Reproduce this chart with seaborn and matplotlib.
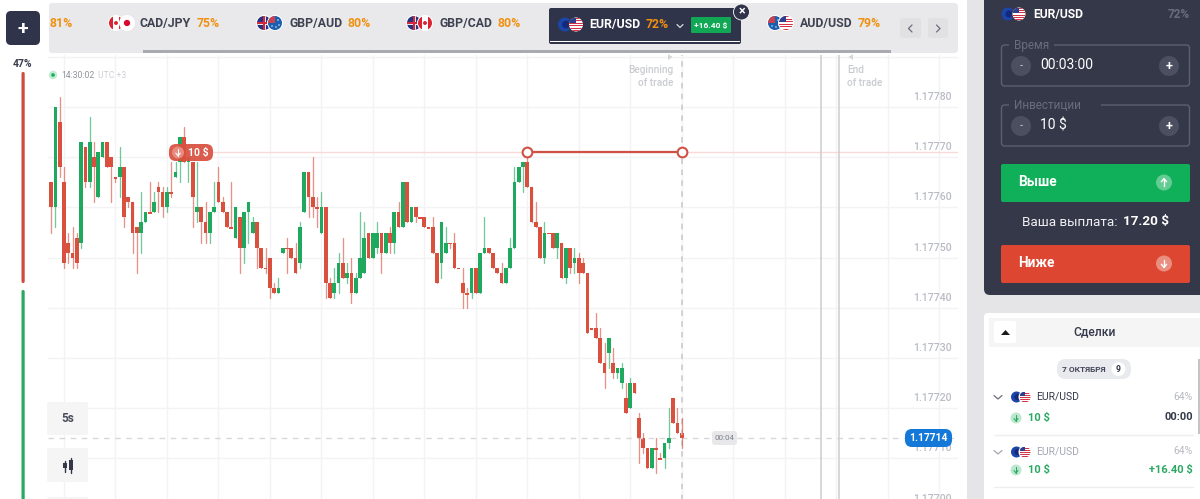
import matplotlib
matplotlib.use("Agg")
import matplotlib.pyplot as plt
from matplotlib.patches import Circle, FancyBboxPatch, Polygon, Rectangle
import numpy as np
import pandas as pd
import seaborn as sns

# --- candle values, in 1e-5 above 1.17700 ---
opens = [65, 60, 77, 65, 53, 51, 54, 53, 72, 65, 70, 62, 70, 73, 70, 66, 66, 68, 62, 61,
         56, 55, 57, 59, 59, 64, 63, 60, 63, 66, 69, 74, 69, 69, 59, 60, 57, 55, 59, 65,
         61, 59, 56, 54, 58, 52, 59, 55, 57, 52, 48, 50, 44, 43, 51, 52, 52, 50, 49, 59,
         67, 62, 60, 55, 60, 45, 43, 45, 49, 46, 47, 43, 46, 47, 55, 50, 52, 55, 51, 55,
         53, 59, 56, 65, 57, 60, 58, 58, 56, 56, 51, 49, 51, 53, 53, 48, 45, 43, 43, 48,
         43, 51, 52, 51, 48, 47, 45, 48, 52, 65, 68, 69, 64, 57, 56, 50, 55, 55, 52, 53,
         46, 52, 49, 50, 49, 47, 36, 36, 34, 29, 31, 29, 27, 25, 22, 20, 25, 18, 14, 12,
         8, 12, 10, 10, 13, 22, 17, 15]
closes = [60, 80, 68, 49, 51, 50, 49, 73, 65, 73, 68, 71, 73, 68, 68, 66, 68, 58, 61, 55,
          55, 57, 59, 59, 61, 63, 60, 63, 63, 67, 74, 69, 70, 62, 60, 57, 55, 59, 60, 61,
          59, 56, 56, 60, 52, 59, 61, 57, 52, 48, 48, 44, 43, 44, 52, 52, 50, 47, 56, 67,
          62, 60, 60, 60, 45, 42, 45, 49, 46, 47, 43, 46, 50, 54, 50, 55, 55, 51, 55, 53,
          59, 56, 65, 57, 60, 58, 58, 56, 56, 51, 45, 57, 53, 53, 48, 48, 43, 43, 48, 43,
          51, 52, 51, 48, 47, 45, 48, 52, 65, 68, 69, 64, 57, 56, 50, 55, 55, 52, 55, 46,
          52, 48, 50, 47, 47, 35, 36, 34, 29, 27, 34, 27, 28, 28, 19, 25, 23, 14, 12, 8,
          12, 12, 10, 13, 14, 17, 15, 14]
highs = [65, 80, 82, 68, 55, 56, 55, 73, 72, 78, 73, 71, 73, 73, 70, 66, 72, 68, 62, 61,
         56, 63, 59, 65, 63, 65, 64, 64, 69, 69, 74, 76, 70, 69, 69, 60, 61, 59, 65, 68,
         62, 59, 65, 60, 58, 59, 61, 58, 57, 52, 52, 50, 45, 46, 52, 54, 52, 53, 57, 67,
         67, 70, 62, 63, 60, 46, 48, 51, 54, 49, 50, 47, 59, 57, 55, 55, 57, 55, 55, 56,
         59, 61, 65, 65, 60, 60, 58, 58, 56, 58, 51, 57, 56, 53, 55, 48, 48, 44, 48, 48,
         51, 58, 52, 51, 48, 49, 48, 54, 68, 68, 69, 70, 64, 61, 56, 57, 55, 55, 55, 53,
         52, 52, 52, 51, 50, 47, 36, 39, 36, 33, 34, 32, 28, 29, 25, 26, 25, 19, 15, 12,
         12, 14, 11, 13, 20, 22, 20, 18]
lows = [55, 56, 66, 48, 49, 48, 48, 52, 64, 64, 61, 62, 70, 68, 61, 65, 62, 56, 60, 51,
        47, 51, 57, 59, 59, 59, 58, 59, 62, 66, 65, 69, 65, 56, 57, 53, 53, 53, 59, 61,
        59, 56, 56, 54, 47, 49, 53, 55, 48, 48, 47, 42, 43, 43, 51, 47, 50, 47, 48, 59,
        58, 58, 56, 55, 42, 42, 42, 43, 46, 45, 41, 43, 46, 47, 50, 50, 51, 47, 51, 51,
        51, 56, 56, 57, 57, 57, 58, 56, 56, 51, 45, 46, 51, 52, 48, 48, 40, 40, 42, 43,
        43, 51, 51, 48, 47, 45, 45, 48, 52, 65, 63, 64, 57, 56, 50, 49, 55, 52, 50, 46,
        45, 47, 47, 45, 47, 35, 36, 34, 29, 24, 28, 26, 26, 24, 19, 20, 23, 9, 11, 8,
        8, 7, 10, 8, 12, 17, 15, 12]

tick_points = [0, 10, 20, 30, 40, 50, 60, 70, 80]
tick_labels = ["1.17700", "1.17710", "1.17720", "1.17730", "1.17740",
               "1.17750", "1.17760", "1.17770", "1.17780"]
trade_points = [71, 71]
trade_candles = [111, 147]
current_points = 14

RED = "#d9503f"
GREEN = "#1fa95f"
DARK = "#343849"
ORANGE = "#f0900f"

to_price = lambda p: 1.177 + np.asarray(p, dtype=float) * 1e-5

# --- build tables ---
candles = pd.DataFrame({"n": range(len(opens)), "o": to_price(opens), "c": to_price(closes),
                        "h": to_price(highs), "l": to_price(lows)})
candles["dir"] = np.where(candles.c > candles.o, "up", "down")
candles["body"] = (candles.c - candles.o).abs().clip(lower=0.35e-5)
candles["base"] = candles[["o", "c"]].max(axis=1) - candles["body"]
wicks = candles.melt(id_vars=["n", "dir"], value_vars=["l", "h"], value_name="price")

# --- theme ---
sns.set_theme(style="white")
plt.rcParams["font.family"] = ["Roboto", "DejaVu Sans"]

fig = plt.figure(figsize=(12, 4.99), dpi=100, facecolor="white")

# chart runs past the bottom edge so 1.17700 gets cut off like the screenshot
ax = fig.add_axes([48 / 1200, -21 / 499, 910 / 1200, 465 / 499], zorder=1)

sns.lineplot(data=wicks, x="n", y="price", units="n", hue="dir", estimator=None,
             palette={"up": GREEN, "down": RED}, lw=0.95, alpha=0.62, legend=False, ax=ax)
for name, color in [("up", GREEN), ("down", RED)]:
    part = candles[candles.dir == name]
    sns.barplot(data=part, x="n", y="body", bottom=part["base"].to_numpy(), native_scale=True,
                orient="x", color=color, saturation=1, width=0.86, errorbar=None,
                linewidth=0, ax=ax)

ax.set_xlim((48 - 51.1) / 4.29, (958 - 51.1) / 4.29)
ax.set_ylim(to_price(-2.27), to_price(90.36))
ax.set_xticks(np.arange(3, 212, 12))
ax.set_yticks(to_price(tick_points + [90]))
ax.tick_params(length=0, labelleft=False, labelbottom=False)
ax.grid(True, color="#f3f3f5", lw=1)
ax.set_axisbelow(True)
ax.set_xlabel("")
ax.set_ylabel("")
sns.despine(ax=ax, left=True, bottom=True)

for p, lab in zip(tick_points, tick_labels):
    ax.text(0.9934, to_price(p + 2), lab, transform=ax.get_yaxis_transform(), ha="right",
            va="center", fontsize=7.6, fontweight="medium", color="#b9bcc4")

# reference lines
ax.axhline(to_price(trade_points[0]), xmin=0.181, color="#f8d9d5", lw=1, zorder=1)
ax.axhline(to_price(current_points), color="#d8d8da", lw=1, ls=(0, (4, 4)), zorder=1)
ax.axvline(trade_candles[1], color="#cfcfd2", lw=1.3, ls=(0, (3, 3)), zorder=1)
ax.axvline(179.5, color="#cdcdd1", lw=1.1, zorder=1)
ax.axvline(183.7, color="#cdcdd1", lw=1.1, zorder=1)
sns.lineplot(x=trade_candles, y=to_price(trade_points), color="#cf5144", lw=1.6, marker="o",
             markersize=7, markerfacecolor="white", markeredgecolor="#cf5144",
             markeredgewidth=1.5, ax=ax, zorder=5)

# --- screen furniture, drawn in pixel coordinates ---
ui = fig.add_axes([0, 0, 1, 1], zorder=2)
ui.set_xlim(0, 1200)
ui.set_ylim(499, 0)
ui.axis("off")


def box(x, y, w, h, color, r=3, **kw):
    p = FancyBboxPatch((x, y), w, h, boxstyle=f"round,pad=0,rounding_size={r}",
                       facecolor=color, edgecolor=kw.pop("edge", "none"), lw=kw.pop("lw", 0), **kw)
    ui.add_patch(p)
    return p


def txt(x, y, s, size=8, color="#3a3d4c", weight="normal", ha="left", **kw):
    return ui.text(x, y, s, fontsize=size, color=color, fontweight=weight, ha=ha, va="center", **kw)


def dot(x, y, r, color, **kw):
    c = Circle((x, y), r, facecolor=color, edgecolor=kw.pop("edge", "none"), lw=kw.pop("lw", 0), **kw)
    ui.add_patch(c)
    return c


def arrow(x, y, sign, color="white", lw=1.0, size=2.6):
    # sign +1 points down the screen, -1 up
    ui.plot([x, x], [y - sign * size * 1.5, y + sign * size * 1.5], color=color, lw=lw)
    ui.plot([x - size, x, x + size], [y + sign * size * 0.3, y + sign * size * 1.5, y + sign * size * 0.3],
            color=color, lw=lw)


def flag(x, y, kind, r=7, ring="white"):
    dot(x, y, r + 1, ring)
    back = {"ca": "white", "jp": "white", "gb": "#27357e", "au": "#1b5fb0", "eu": "#1c45a8", "us": "white"}[kind]
    disc = dot(x, y, r, back)
    clip = []
    if kind == "ca":
        clip = [Rectangle((x - r, y - r), r * 0.55, 2 * r, color="#d92433"),
                Rectangle((x + r * 0.45, y - r), r * 0.55, 2 * r, color="#d92433")]
        dot(x, y, r * 0.28, "#d92433")
    elif kind == "jp":
        dot(x, y, r * 0.45, "#d9082f")
    elif kind == "gb":
        clip = [Rectangle((x - r, y - 1.5), 2 * r, 3, color="#e8e8ee"),
                Rectangle((x - 1.5, y - r), 3, 2 * r, color="#e8e8ee"),
                Rectangle((x - r, y - 0.8), 2 * r, 1.6, color="#d6283c"),
                Rectangle((x - 0.8, y - r), 1.6, 2 * r, color="#d6283c")]
    elif kind == "au":
        clip = [Rectangle((x - r, y - r), r, r, color="#c8434f")]
        for dx, dy in [(3, -3), (4, 2), (1, 4), (-3, 3)]:
            dot(x + dx, y + dy, 0.7, "white")
    elif kind == "eu":
        dot(x + 1, y, r * 0.55, "#12297c")
    elif kind == "us":
        clip = [Rectangle((x - r, y - r + k * r * 0.36), 2 * r, r * 0.18, color="#d5324a") for k in range(6)]
        clip.append(Rectangle((x - r, y - r), r, r * 0.85, color="#2d3f8f"))
    for piece in clip:
        piece.set_linewidth(0)
        ui.add_patch(piece)
        piece.set_clip_path(disc)


def pair(x, a, b, y=23, ring="white", r=7, gap=11):
    flag(x, y, a, r, ring)
    flag(x + gap, y, b, r, ring)


# left column
box(6, 11, 34, 34, "#30344a", r=5)
txt(23, 28.5, "+", size=14, color="white", weight="bold", ha="center")
txt(23, 64, "47%", size=7.5, color="#3a3d4c", weight="bold", ha="center")
box(21.5, 72, 3.2, 211, "#cd4d3f", r=1.5)
box(21.5, 290, 3.2, 215, "#2aa862", r=1.5)

# instrument strip
box(49, 3, 909, 50, "#e9e9ec", r=3)
ui.add_patch(Rectangle((143, 50), 748, 2.6, facecolor="#a9a9b0", lw=0))
txt(49, 23, "81%", size=8.8, color=ORANGE, weight="bold")
pair(116, "ca", "jp")
txt(140, 23, "CAD/JPY", size=8.8, color="#3f4250", weight="bold")
txt(197, 23, "75%", size=8.8, color=ORANGE, weight="bold")
pair(264, "gb", "au")
txt(289, 23, "GBP/AUD", size=8.8, color="#3f4250", weight="bold")
txt(348, 23, "80%", size=8.8, color=ORANGE, weight="bold")
pair(414, "gb", "ca")
txt(439, 23, "GBP/CAD", size=8.8, color="#3f4250", weight="bold")
txt(498, 23, "80%", size=8.8, color=ORANGE, weight="bold")
box(549, 8, 192, 36, "#30344a", r=2)
ui.add_patch(Rectangle((550, 41), 190, 1.4, facecolor="white", lw=0))
pair(565, "eu", "us", y=24.5, ring="#30344a")
txt(589, 24.5, "EUR/USD", size=8.8, color="white", weight="bold")
txt(646, 24.5, "72%", size=8.8, color=ORANGE, weight="bold")
ui.plot([677, 680, 683], [24.5, 27.5, 24.5], color="#d8d8de", lw=0.9)
box(691, 17, 40, 16, "#10a855", r=1)
txt(711, 25, "+16.40 $", size=6, color="white", weight="bold", ha="center")
dot(741.5, 12, 8, "#30344a", edge="white", lw=0.6)
txt(741.5, 11.5, "×", size=9, color="white", weight="bold", ha="center")
pair(775, "au", "us")
txt(800, 23, "AUD/USD", size=8.8, color="#3f4250", weight="bold")
txt(858, 23, "79%", size=8.8, color=ORANGE, weight="bold")
box(900, 18, 21, 20, "#e1e1e4", r=3)
box(928, 18, 20, 20, "#e1e1e4", r=3)
ui.plot([912, 908.5, 912], [25, 28.5, 32], color="#6a6d7c", lw=0.9)
ui.plot([936.5, 940, 936.5], [25, 28.5, 32], color="#6a6d7c", lw=0.9)

# chart captions
dot(53, 75, 4.2, "#bdeccf")
dot(53, 75, 1.8, "#1fa95f")
txt(61, 75, "14:30:02", size=6.2, color="#8f929c")
txt(98, 75, "UTC +3", size=6.2, color="#cfd0d5")
txt(673, 70, "Beginning", size=7.3, color="#cbccd1", ha="right", weight="medium")
txt(673, 83, "of trade", size=7.3, color="#cbccd1", ha="right", weight="medium")
ui.add_patch(Polygon([[668, 54], [668, 60], [672.5, 57]], facecolor="#d5d6da", lw=0))
txt(847, 70, "End", size=7.3, color="#cbccd1", weight="medium")
txt(847, 83, "of trade", size=7.3, color="#cbccd1", weight="medium")
ui.add_patch(Polygon([[853, 54], [853, 60], [848.5, 57]], facecolor="#d5d6da", lw=0))

# entry pill
box(169, 144, 44, 17, "#d9503f", r=7, alpha=0.93)
dot(178, 152.5, 6, "#e88b80")
arrow(178, 152.5, 1, lw=0.8, size=2.2)
txt(188, 152.5, "10 $", size=7.5, color="white", weight="bold")

# current price
box(712, 431, 25, 14, "#e8e8ea", r=3)
txt(724.5, 438, "00:04", size=5.8, color="#7d808c", ha="center")
box(905, 429, 47, 18, "#1378d8", r=7)
txt(928.5, 438, "1.17714", size=7.4, color="white", weight="bold", ha="center")

# tool buttons
box(47, 402, 41, 33, "#f5f5f6", r=2)
txt(67.5, 418, "5s", size=8.5, color="#4a4d5c", weight="bold", ha="center")
box(47, 448, 41, 34, "#f5f5f6", r=2)
ui.plot([64.5, 64.5], [461, 472], color="#343849", lw=1)
ui.plot([71, 71], [458, 473], color="#343849", lw=1)
ui.add_patch(Rectangle((62.5, 463), 4, 5, facecolor="#343849", lw=0))
ui.add_patch(Rectangle((69, 460), 4, 10, facecolor="#343849", lw=0))
box(47, 497, 41, 10, "#f5f5f6", r=2)

# right column
ui.add_patch(Rectangle((967, 0), 233, 499, facecolor="#e5e5e7", lw=0))
box(984, -12, 230, 307, DARK, r=6)
box(984, 313, 230, 200, "white", r=4)

pair(1008, "eu", "us", y=14, ring=DARK, r=6.5)
txt(1033, 14, "EUR/USD", size=8.7, color="white", weight="bold")
txt(1190, 14, "72%", size=8.5, color="#686c7c", weight="bold", ha="right")

for top, label, value in [(45, "Время", "00:03:00"), (105, "Инвестиции", "10 $")]:
    box(1001.5, top, 188, 41, "none", r=3, edge="#5c6072", lw=1)
    width = 45 if label == "Время" else 92
    ui.add_patch(Rectangle((1009, top - 2), width, 4, facecolor=DARK, lw=0))
    txt(1014, top + 0.5, label, size=8.5, color="#686c7c")
    dot(1021, top + 21, 10, "#4b4f60")
    txt(1021, top + 21, "-", size=8, color="#c5c7cf", ha="center")
    txt(1040, top + 20, value, size=10, color="white")
    dot(1169, top + 21, 10, "#4b4f60")
    txt(1169, top + 21, "+", size=9, color="white", weight="bold", ha="center")

box(1001, 164, 189, 38, "#10b05a", r=2)
txt(1018, 182, "Выше", size=9.8, color="white", weight="bold")
dot(1164, 182.5, 8, "#63cc93")
arrow(1164, 182.5, -1)
txt(1022, 222, "Ваша выплата:", size=9.7, color="#f0f0f4")
txt(1169, 222, "17.20 $", size=9.7, color="white", weight="bold", ha="right")
box(1001, 245, 189, 38, "#dd4631", r=2)
txt(1018, 263, "Ниже", size=9.8, color="white", weight="bold")
dot(1164, 263.5, 8, "#ea8e80")
arrow(1164, 263.5, 1)

# deals list
ui.add_patch(Rectangle((989, 318), 211, 29, facecolor="#f5f5f6", lw=0))
box(994, 321, 22, 22, "white", r=2)
ui.add_patch(Polygon([[1001, 335], [1010, 335], [1005.5, 330]], facecolor="#1a1a1e", lw=0))
txt(1095, 332, "Сделки", size=8.7, color="#343849", weight="medium", ha="center")
box(1057, 359, 74, 20, "#e9eaee", r=9)
txt(1062, 369, "7 ОКТЯБРЯ", size=6, color="#44475a", weight="bold")
dot(1118.5, 369, 7, "white")
txt(1118.5, 369, "9", size=6.2, color="#343849", weight="bold", ha="center")

rows = [(397, 418, "#343849", "#6a6d7c", "00:00", "#343849"),
        (452, 470, "#a5a7b0", "#a5a7b0", "+16.40 $", "#2aa862")]
for top, low, name_col, chev, right, right_col in rows:
    ui.plot([994, 998, 1002], [top - 1.5, top + 2, top - 1.5], color=chev, lw=0.9)
    pair(1016.5, "eu", "us", y=top, r=5.5, gap=8.5)
    txt(1036, top - 0.5, "EUR/USD", size=7.5, color=name_col)
    txt(1193, top - 0.5, "64%", size=7.5, color="#b7b9c0", ha="right")
    dot(1016, low, 5.5, "#bde8cf")
    arrow(1016, low, 1, color="#2aa862", lw=0.8, size=2)
    txt(1028, low - 0.5, "10 $", size=8, color="#2aa862", weight="bold")
    txt(1193, low - 0.5, right, size=8, color=right_col, weight="bold", ha="right")
    ui.plot([994, 1193], [low + 17, low + 17], color="#efeff2", lw=1)
ui.add_patch(Rectangle((1198, 359), 2, 75, facecolor="#c4c4c8", lw=0))

fig.savefig("out.png", dpi=100, facecolor="white")
